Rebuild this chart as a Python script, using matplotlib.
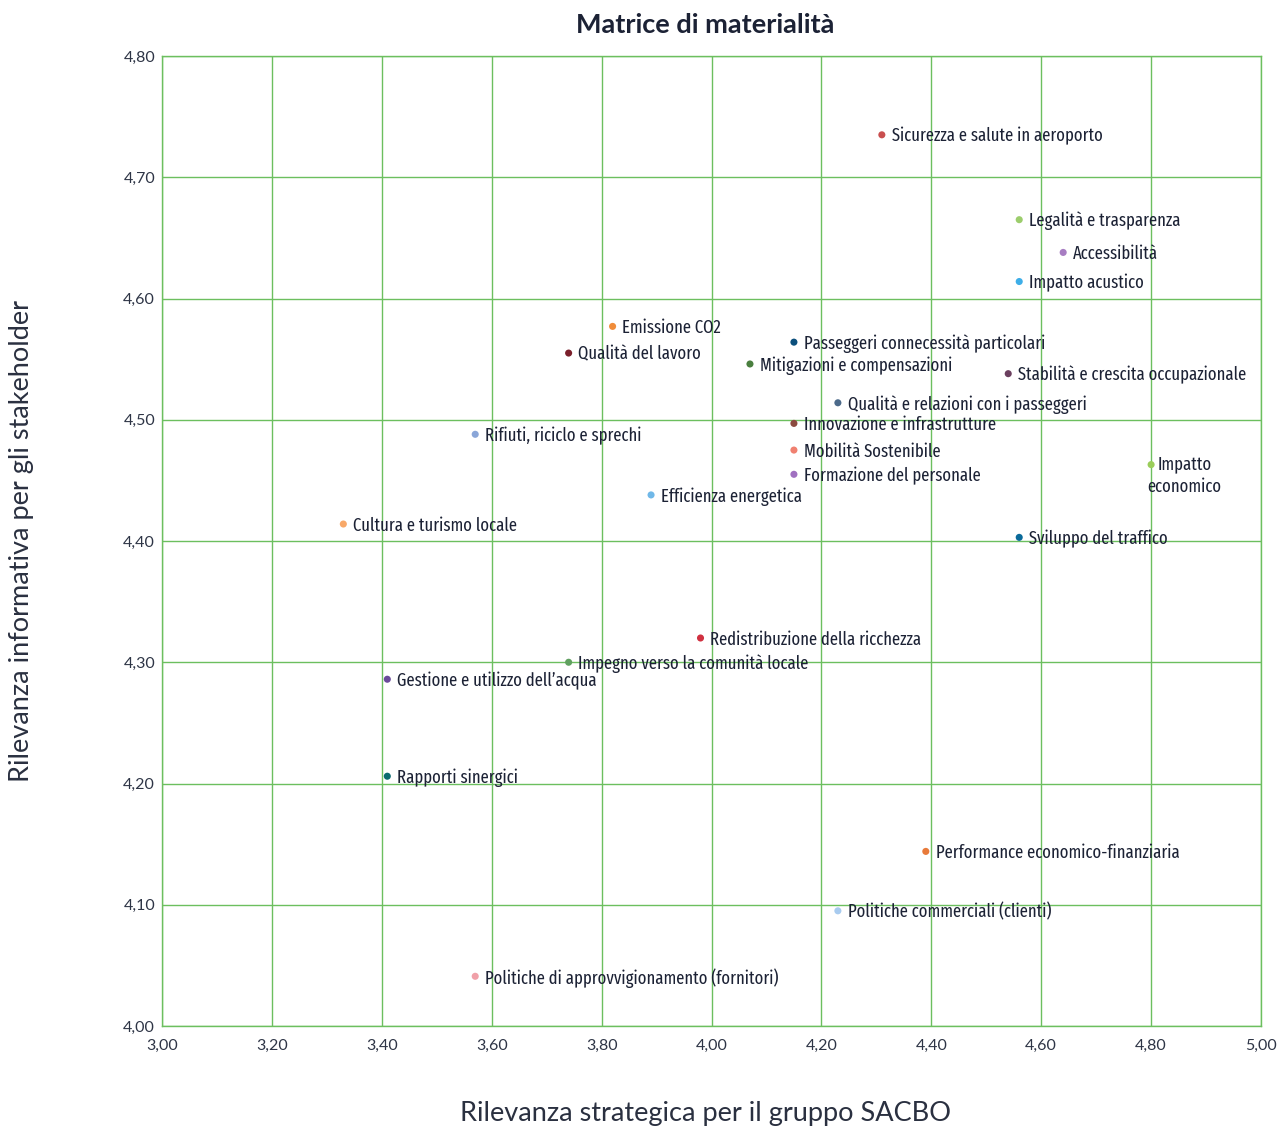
import matplotlib
matplotlib.use("Agg")
from matplotlib import pyplot as plt

# ── data ──────────────────────────────────────────────────────────────────────
topics = [
    "Sicurezza e salute in aeroporto", "Legalità e trasparenza", "Accessibilità",
    "Impatto acustico", "Emissione CO2", "Qualità del lavoro",
    "Passeggeri connecessità particolari", "Mitigazioni e compensazioni",
    "Stabilità e crescita occupazionale", "Qualità e relazioni con i passeggeri",
    "Innovazione e infrastrutture", "Rifiuti, riciclo e sprechi", "Mobilità Sostenibile",
    "Formazione del personale", "Impatto\neconomico", "Efficienza energetica",
    "Cultura e turismo locale", "Sviluppo del traffico", "Redistribuzione della ricchezza",
    "Impegno verso la comunità locale", "Gestione e utilizzo dell’acqua",
    "Rapporti sinergici", "Performance economico-finanziaria",
    "Politiche commerciali (clienti)", "Politiche di approvvigionamento (fornitori)",
]
strategic = [4.31, 4.56, 4.64, 4.56, 3.82, 3.74, 4.15, 4.07, 4.54, 4.23, 4.15, 3.57,
             4.15, 4.15, 4.80, 3.89, 3.33, 4.56, 3.98, 3.74, 3.41, 3.41, 4.39, 4.23, 3.57]
stakeholder = [4.735, 4.665, 4.638, 4.614, 4.577, 4.555, 4.564, 4.546, 4.538, 4.514,
               4.497, 4.488, 4.475, 4.455, 4.463, 4.438, 4.414, 4.403, 4.320, 4.300,
               4.286, 4.206, 4.144, 4.095, 4.041]
colors = ["#c94f4f", "#9ccd6c", "#a77dc2", "#3eaee8", "#f08c3a", "#7a1f2b",
          "#0b4f7c", "#4a7f3f", "#6b3f5f", "#4c6a8a", "#8b4a3f", "#8aa6d8",
          "#f08070", "#a070c0", "#9acd5a", "#70b8e8", "#f8a868", "#0a6a9a",
          "#d03040", "#60a060", "#6a4a9a", "#0a6a70", "#e87a3a", "#a8cbef",
          "#f0a0a8"]

x_ticks = [3.0, 3.2, 3.4, 3.6, 3.8, 4.0, 4.2, 4.4, 4.6, 4.8, 5.0]
y_ticks = [4.0, 4.1, 4.2, 4.3, 4.4, 4.5, 4.6, 4.7, 4.8]

NAVY = "#1c2235"
GRID = "#6cbf5f"
LABEL_FONT = ["Fira Sans Extra Condensed", "DejaVu Sans"]
AXIS_FONT = ["Lato", "DejaVu Sans"]

fig = plt.figure(figsize=(12.78, 11.26), dpi=100)
ax = fig.add_axes([162 / 1278, 1 - 1026 / 1126, (1261 - 162) / 1278, (1026 - 56) / 1126])

ax.set_xlim(3.0, 5.0)
ax.set_ylim(4.0, 4.8)
ax.set_xticks(x_ticks)
ax.set_yticks(y_ticks)
ax.set_xticklabels([f"{v:.2f}".replace(".", ",") for v in x_ticks])
ax.set_yticklabels([f"{v:.2f}".replace(".", ",") for v in y_ticks])
ax.tick_params(length=0, labelsize=11.5, labelcolor="#2e3546")
ax.tick_params(axis="x", pad=9)
ax.tick_params(axis="y", pad=5)
for lbl in ax.get_xticklabels() + ax.get_yticklabels():
    lbl.set_family(AXIS_FONT)
ax.grid(True, color=GRID, lw=1)
ax.set_axisbelow(True)
for sp in ax.spines.values():
    sp.set_color(GRID)
    sp.set_linewidth(1)

ax.scatter(strategic, stakeholder, s=26, c=colors, zorder=3, linewidths=0)

for name, xv, yv in zip(topics, strategic, stakeholder):
    if "\n" in name:
        ax.annotate(name, (xv, yv), xytext=(24, 7), textcoords="offset points",
                    ha="center", va="top", ma="center", fontsize=13,
                    family=LABEL_FONT, color=NAVY, linespacing=1.35, zorder=4)
    else:
        ax.annotate(name, (xv, yv), xytext=(7, -1), textcoords="offset points",
                    ha="left", va="center", fontsize=13,
                    family=LABEL_FONT, color=NAVY, zorder=4)

fig.text(705 / 1278, 1 - 25 / 1126, "Matrice di materialità", ha="center", va="center",
         fontsize=19.5, fontweight="bold", family=AXIS_FONT, color=NAVY)
fig.text(705 / 1278, 1 - 1113 / 1126, "Rilevanza strategica per il gruppo SACBO",
         ha="center", va="center", fontsize=19.5, family=AXIS_FONT, color="#2a3040")
fig.text(22 / 1278, 1 - 541 / 1126, "Rilevanza informativa per gli stakeholder",
         ha="center", va="center", rotation=90, fontsize=19.5, family=AXIS_FONT,
         color="#2a3040")

fig.savefig("out.png", dpi=100)
